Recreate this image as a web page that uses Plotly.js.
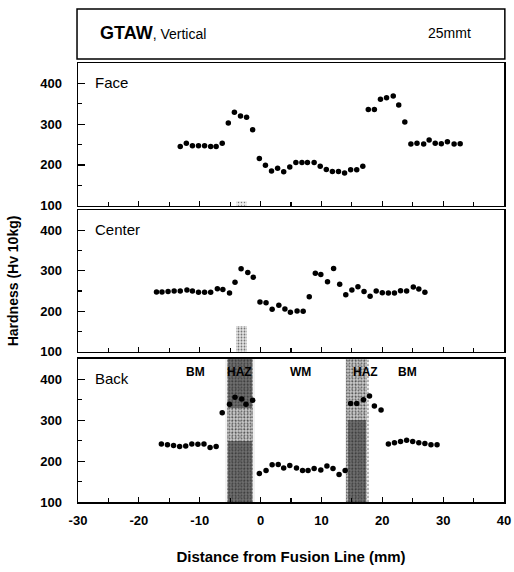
<!DOCTYPE html>
<html>
<head>
<meta charset="utf-8">
<script src="https://cdn.plot.ly/plotly-3.0.1.min.js"></script>
<style>html,body{margin:0;padding:0;background:#fff;}#chart{width:514px;height:572px;}</style>
</head>
<body>
<div id="chart"></div>
<script>
// ---- data ----
var faceX = [-13.2,-12.2,-11.2,-10.2,-9.2,-8.2,-7.3,-6.3,-5.3,-4.3,-3.3,-2.3,-1.3,-0.2,0.8,1.8,2.8,3.8,4.8,5.8,6.8,7.7,8.8,9.8,10.8,11.8,12.8,13.8,14.8,15.8,16.8,17.7,18.7,19.7,20.7,21.8,22.7,23.7,24.7,25.7,26.8,27.7,28.7,29.7,30.7,31.8,32.8];
var faceY = [245,253,247,247,247,245,245,253,303,329,320,317,286,216,199,185,192,183,195,206,206,206,206,197,189,184,184,180,188,188,197,336,336,361,365,369,347,305,251,253,251,261,253,252,257,251,252];

var centerX = [-17.1,-16.2,-15.2,-14.2,-13.2,-12.1,-11.2,-10.2,-9.2,-8.2,-7.1,-6.2,-5.1,-4.2,-3.2,-2.1,-1.2,-0.1,0.9,1.9,3.0,4.0,4.9,6.0,7.0,8.0,9.0,9.9,11.0,12.0,13.0,14.0,15.0,16.0,17.0,18.0,19.0,20.0,21.0,22.0,23.0,24.0,25.1,26.0,27.0];
var centerY = [248,248,249,250,250,253,250,247,247,247,256,254,245,272,305,296,284,223,221,205,215,206,198,201,200,236,294,291,273,306,267,241,253,261,249,237,250,246,245,245,251,250,260,255,247];

var backX = [-16.3,-15.3,-14.3,-13.3,-12.3,-11.3,-10.3,-9.3,-8.3,-7.3,-6.3,-5.1,-4.2,-3.1,-2.4,-1.3,-0.2,0.9,1.9,2.9,3.8,4.8,5.9,6.9,7.8,8.8,9.9,10.9,11.9,12.9,13.9,14.8,15.8,16.9,17.9,18.7,19.8,21.0,22.0,23.0,24.0,25.0,26.0,27.0,28.0,29.0];
var backY = [242,240,238,236,237,242,241,242,233,236,318,339,356,352,339,349,170,177,191,192,183,189,183,177,177,182,178,188,182,167,177,341,341,350,359,335,325,242,245,248,251,248,245,243,240,240];

// heat-affected-zone etched bands (mm from fusion line) and hardness span
var hazBandsX = [[-5.5,-1.2],[14.1,17.5]];
var hazDenseY = [[[100,250],[330,450]],[[100,300]]];
var faintBandX = [-4.0,-2.3];
var faintDenseY = [[100,165],[100,112]];

var zoneLabels = ["BM","HAZ","WM","HAZ","BM"];
var zoneLabelX = [-10.7,-3.5,6.5,17.3,24.2];
var zoneLabelY = 418;

var panelNames = ["Face","Center","Back"];
var yTicks = [100,200,300,400];
var xTicks = [-30,-20,-10,0,10,20,30,40];
var xTickText = ["-30","-20","-10","0","10","20","30","40"];

// ---- traces ----
var traces = [];
function bandTrace(x0, x1, y0, y1, xa, ya, dens, size, bg) {
  return {
    type: 'bar', x: [(x0 + x1) / 2], y: [y1 - y0], base: [y0], width: [x1 - x0],
    xaxis: xa, yaxis: ya, hoverinfo: 'skip', showlegend: false,
    marker: {color: bg, line: {width: 0},
      pattern: {shape: '.', fgcolor: '#000', size: size, solidity: dens, fillmode: 'overlay'}}
  };
}
// back panel bands: fuzzy halo, speckled body, denser cores
hazBandsX.forEach(function (b, i) {
  traces.push(bandTrace(b[0] - 0.3, b[1] + 0.3, 100, 450, 'x3', 'y3', 0.15, 4, 'rgba(200,200,200,0.25)'));
  traces.push(bandTrace(b[0], b[1], 100, 450, 'x3', 'y3', 0.35, 3, 'rgba(130,130,130,0.35)'));
  hazDenseY[i].forEach(function (r) {
    traces.push(bandTrace(b[0] + 0.2, b[1] - 0.2, r[0], r[1], 'x3', 'y3', 0.5, 2, 'rgba(70,70,70,0.45)'));
  });
});
// faint speckle in face / center panels
traces.push(bandTrace(faintBandX[0], faintBandX[1], faintDenseY[0][0], faintDenseY[0][1], 'x2', 'y2', 0.3, 3, 'rgba(170,170,170,0.3)'));
traces.push(bandTrace(faintBandX[0], faintBandX[1], faintDenseY[1][0], faintDenseY[1][1], 'x', 'y', 0.2, 3, 'rgba(190,190,190,0.25)'));

var mk = {color: '#000', size: 5.5, symbol: 'circle'};
traces.push({type: 'scatter', mode: 'markers', x: faceX, y: faceY, xaxis: 'x', yaxis: 'y', marker: mk, showlegend: false, name: 'Face'});
traces.push({type: 'scatter', mode: 'markers', x: centerX, y: centerY, xaxis: 'x2', yaxis: 'y2', marker: mk, showlegend: false, name: 'Center'});
traces.push({type: 'scatter', mode: 'markers', x: backX, y: backY, xaxis: 'x3', yaxis: 'y3', marker: mk, showlegend: false, name: 'Back'});

// ---- layout ----
var tickFont = {family: 'Liberation Sans, Arial, sans-serif', size: 13, color: '#000', weight: 'bold'};
function xAx(anchor, showLabels) {
  return {
    anchor: anchor, range: [-30, 40], tickvals: xTicks, ticktext: xTickText, showticklabels: showLabels,
    ticks: 'inside', ticklen: 5, tickwidth: 1.2, tickcolor: '#000',
    minor: {dtick: 5, ticks: 'inside', ticklen: 4, tickwidth: 1.2, tickcolor: '#000'},
    showline: true, mirror: true, linecolor: '#000', linewidth: 1.5,
    showgrid: false, zeroline: false, tickfont: tickFont, ticklabelstandoff: 6, fixedrange: true
  };
}
function yAx(anchor, dom) {
  return {
    anchor: anchor, domain: dom, range: [100, 450], tickvals: yTicks,
    ticks: 'inside', ticklen: 7, tickwidth: 1.2, tickcolor: '#000',
    minor: {tickvals: [150, 250, 350], ticks: 'inside', ticklen: 4, tickwidth: 1.2, tickcolor: '#000'},
    showline: true, mirror: true, linecolor: '#000', linewidth: 1.5,
    showgrid: false, zeroline: false, tickfont: tickFont, ticklabelstandoff: 12, fixedrange: true
  };
}

var annotations = [];
panelNames.forEach(function (n, i) {
  var ya = ['y', 'y2', 'y3'][i], xa = ['x', 'x2', 'x3'][i];
  annotations.push({text: n, xref: xa + ' domain', yref: ya + ' domain', x: 0.035, y: 0.865,
    xanchor: 'left', yanchor: 'middle', showarrow: false,
    font: {family: 'Liberation Sans, Arial, sans-serif', size: 15, color: '#000'}});
});
zoneLabels.forEach(function (t, i) {
  annotations.push({text: '<b>' + t + '</b>', xref: 'x3', yref: 'y3', x: zoneLabelX[i], y: zoneLabelY,
    showarrow: false, xanchor: 'center', yanchor: 'middle',
    font: {family: 'Liberation Sans, Arial, sans-serif', size: 12, color: '#000'}});
});
annotations.push({text: '<b>GTAW</b><span style="font-size:14px">, Vertical</span>', xref: 'paper', yref: 'paper',
  x: 0.047, y: 1.068, xanchor: 'left', yanchor: 'middle', showarrow: false,
  font: {family: 'Liberation Sans, Arial, sans-serif', size: 18, color: '#000'}});
annotations.push({text: '25mmt', xref: 'paper', yref: 'paper', x: 0.927, y: 1.068,
  xanchor: 'right', yanchor: 'middle', showarrow: false,
  font: {family: 'Liberation Sans, Arial, sans-serif', size: 14, color: '#000'}});

var xa3 = xAx('y3', true);
xa3.title = {text: '<b>Distance from Fusion Line (mm)</b>', standoff: 24,
  font: {family: 'Liberation Sans, Arial, sans-serif', size: 15, color: '#000'}};
var ya2 = yAx('x2', [0.342, 0.665]);
ya2.title = {text: '<b>Hardness (Hv 10kg)</b>', standoff: 18,
  font: {family: 'Liberation Sans, Arial, sans-serif', size: 14, color: '#000'}};

var layout = {
  width: 514, height: 572,
  margin: {l: 78, r: 10, t: 63, b: 70, autoexpand: false},
  paper_bgcolor: '#fff', plot_bgcolor: '#fff',
  showlegend: false, barmode: 'overlay', bargap: 0,
  xaxis: xAx('y', false), xaxis2: xAx('y2', false), xaxis3: xa3,
  yaxis: yAx('x', [0.675, 1]), yaxis2: ya2, yaxis3: yAx('x3', [0, 0.326]),
  annotations: annotations,
  shapes: [{type: 'rect', xref: 'paper', yref: 'paper', x0: -0.0023, x1: 1.002, y0: 1.009, y1: 1.123,
    line: {color: '#000', width: 1.5}, fillcolor: 'rgba(0,0,0,0)'}]
};

Plotly.newPlot('chart', traces, layout, {displayModeBar: false, staticPlot: true});
</script>
</body>
</html>
